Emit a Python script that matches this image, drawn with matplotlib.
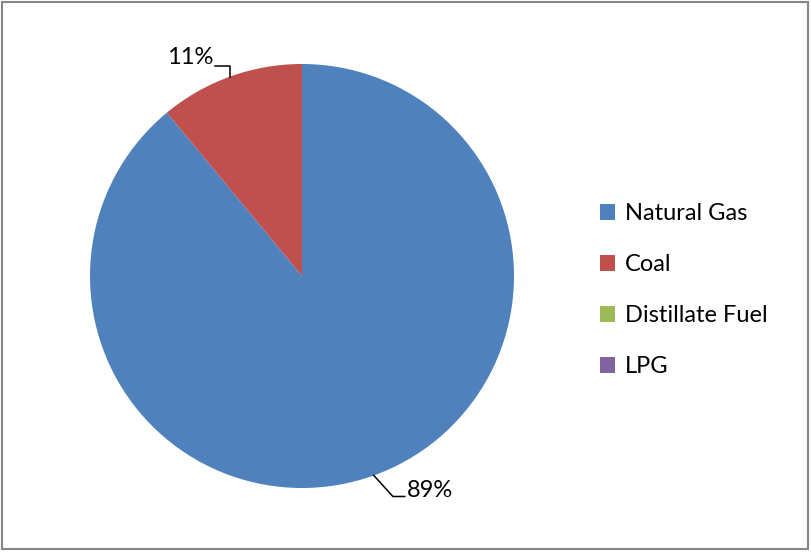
import numpy as np
import matplotlib
matplotlib.use("Agg")
import matplotlib.pyplot as plt
from matplotlib.patches import Rectangle

plt.rcParams['font.family'] = ['Lato', 'DejaVu Sans']

# data
fuels = ["Natural Gas", "Coal", "Distillate Fuel", "LPG"]
shares = [89, 11, 0, 0]
colors = ["#4F81BD", "#C0504D", "#9BBB59", "#8064A2"]

W, H = 811, 553
fig = plt.figure(figsize=(W / 100, H / 100), dpi=100)

# pie axes: center (302, 276) px, radius 212 px
cx, cy, r = 302, 276, 212
ax = fig.add_axes([(cx - r) / W, (H - cy - r) / H, 2 * r / W, 2 * r / H])
wedges, _ = ax.pie(shares, colors=colors, startangle=90, counterclock=False,
                   radius=1, wedgeprops=dict(linewidth=0))
ax.set_xlim(-1, 1)
ax.set_ylim(-1, 1)
ax.set_aspect("equal")
ax.axis("off")

fs = 17

# data labels with elbow leader lines
total = sum(shares)
for w, v in zip(wedges, shares):
    if v == 0:
        continue
    mid = np.deg2rad((w.theta1 + w.theta2) / 2)
    x0, y0 = np.cos(mid), np.sin(mid)
    txt = f"{round(v / total * 100)}%"
    if y0 > 0:
        # top label: up then left
        ye = 0.99
        ax.plot([x0, x0, x0 - 0.07], [y0, ye, ye], color="black", lw=1.1, clip_on=False)
        ax.text(x0 - 0.08, ye + 0.04, txt, ha="right", va="center", fontsize=fs, clip_on=False)
    else:
        ye = -1.04
        xe = x0 + 0.09
        ax.plot([x0, xe, xe + 0.056], [y0, ye, ye], color="black", lw=1.1, clip_on=False)
        ax.text(xe + 0.065, ye + 0.03, txt, ha="left", va="center", fontsize=fs, clip_on=False)

# legend
fig.legend(wedges, fuels, loc="upper left", bbox_to_anchor=(591 / W, 1 - 194 / H),
           frameon=False, fontsize=fs, handlelength=0.62, handleheight=0.62,
           handletextpad=0.4, labelspacing=1.27, borderaxespad=0)

# outer border
fig.patches.append(Rectangle((2 / W, 4 / H), (W - 5) / W, (H - 6) / H,
                             transform=fig.transFigure, fill=False,
                             edgecolor="#868686", linewidth=1.5))

fig.savefig("out.png", dpi=100, facecolor="white")
